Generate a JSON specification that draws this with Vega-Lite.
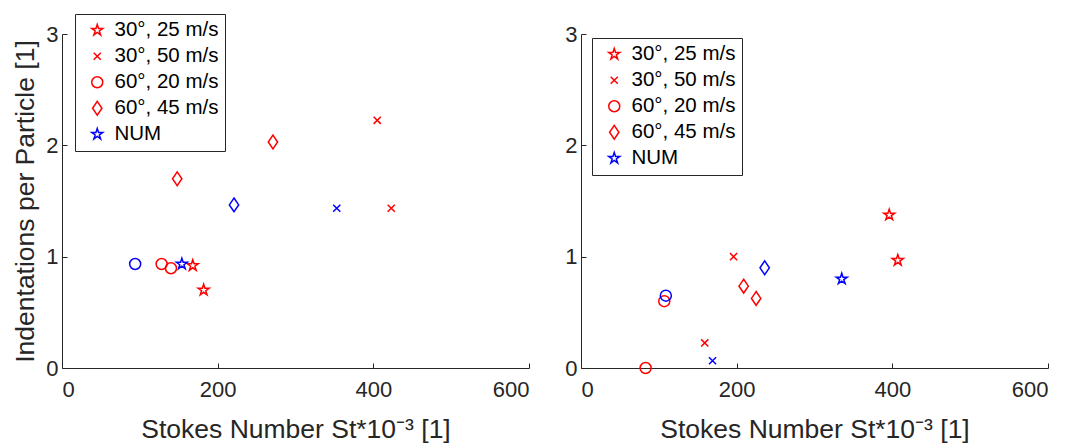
{
  "$schema": "https://vega.github.io/schema/vega-lite/v6.json",
  "autosize": {"type": "pad"},
  "padding": {"left": 12, "top": 13, "right": 5, "bottom": 0},
  "config": {
    "font": "Liberation Sans",
    "view": {"stroke": null},
    "concat": {"spacing": 52},
    "axis": {
      "grid": false,
      "domainColor": "#262626",
      "tickColor": "#262626",
      "labelColor": "#262626",
      "titleColor": "#262626",
      "labelFontSize": 22,
      "titleFontSize": 26.5,
      "titleFontWeight": "normal",
      "tickSize": -5,
      "domainWidth": 1,
      "tickWidth": 1
    },
    "legend": {
      "orient": "none",
      "title": null,
      "strokeColor": "#262626",
      "fillColor": "white",
      "padding": 6,
      "symbolOffset": 6,
      "labelFontSize": 20.5,
      "labelColor": "#000000",
      "labelOffset": 7,
      "symbolSize": 121,
      "symbolStrokeWidth": 1.5,
      "rowPadding": 5,
      "labelLimit": 300
    }
  },
  "bounds": "flush",
  "datasets": {
    "left": [
      {"src": "EXP", "cond": "30°, 25 m/s", "St": 168, "ind": 0.92},
      {"src": "EXP", "cond": "30°, 25 m/s", "St": 182, "ind": 0.70},
      {"src": "EXP", "cond": "30°, 50 m/s", "St": 405, "ind": 2.225},
      {"src": "EXP", "cond": "30°, 50 m/s", "St": 423, "ind": 1.435},
      {"src": "EXP", "cond": "60°, 20 m/s", "St": 128, "ind": 0.934},
      {"src": "EXP", "cond": "60°, 20 m/s", "St": 140, "ind": 0.896},
      {"src": "EXP", "cond": "60°, 45 m/s", "St": 148, "ind": 1.70},
      {"src": "EXP", "cond": "60°, 45 m/s", "St": 271, "ind": 2.03},
      {"src": "NUM", "cond": "30°, 25 m/s", "St": 154, "ind": 0.934},
      {"src": "NUM", "cond": "30°, 50 m/s", "St": 353, "ind": 1.435},
      {"src": "NUM", "cond": "60°, 20 m/s", "St": 94, "ind": 0.934},
      {"src": "NUM", "cond": "60°, 45 m/s", "St": 221, "ind": 1.465}
    ],
    "right": [
      {"src": "EXP", "cond": "30°, 25 m/s", "St": 396, "ind": 1.375},
      {"src": "EXP", "cond": "30°, 25 m/s", "St": 407, "ind": 0.967},
      {"src": "EXP", "cond": "30°, 50 m/s", "St": 159, "ind": 0.225},
      {"src": "EXP", "cond": "30°, 50 m/s", "St": 196, "ind": 1.0},
      {"src": "EXP", "cond": "60°, 20 m/s", "St": 83, "ind": 0.0},
      {"src": "EXP", "cond": "60°, 20 m/s", "St": 107, "ind": 0.60},
      {"src": "EXP", "cond": "60°, 45 m/s", "St": 209, "ind": 0.735},
      {"src": "EXP", "cond": "60°, 45 m/s", "St": 225, "ind": 0.625},
      {"src": "NUM", "cond": "30°, 25 m/s", "St": 335, "ind": 0.80},
      {"src": "NUM", "cond": "30°, 50 m/s", "St": 169, "ind": 0.065},
      {"src": "NUM", "cond": "60°, 20 m/s", "St": 109, "ind": 0.65},
      {"src": "NUM", "cond": "60°, 45 m/s", "St": 236, "ind": 0.90}
    ]
  },
  "resolve": {
    "scale": {"color": "independent", "shape": "independent", "x": "independent", "y": "independent"},
    "legend": {"color": "independent", "shape": "independent"}
  },
  "hconcat": [
    {
      "width": 467,
      "height": 334,
      "data": {"name": "left"},
      "mark": {"type": "point", "filled": false, "size": 121, "strokeWidth": 1.5, "opacity": 1},
      "encoding": {
        "x": {"field": "St", "type": "quantitative", "scale": {"domain": [0, 600], "nice": false},
          "axis": {"values": [0, 200, 400, 600], "title": "Stokes Number St*10⁻³ [1]", "labelPadding": 16, "titlePadding": 16}},
        "y": {"field": "ind", "type": "quantitative", "scale": {"domain": [0, 3], "nice": false},
          "axis": {"values": [0, 1, 2, 3], "title": "Indentations per Particle [1]", "labelPadding": 9, "titlePadding": 6}},
        "color": {
          "condition": {"test": "datum.src === 'NUM'", "value": "#0000FF"},
          "field": "cond", "type": "nominal",
          "scale": {"domain": ["30°, 25 m/s", "30°, 50 m/s", "60°, 20 m/s", "60°, 45 m/s", "NUM"],
                    "range": ["#FF0000", "#FF0000", "#FF0000", "#FF0000", "#0000FF"]},
          "legend": {"legendX": 13, "legendY": -20}
        },
        "shape": {
          "field": "cond", "type": "nominal",
          "scale": {"domain": ["30°, 25 m/s", "30°, 50 m/s", "60°, 20 m/s", "60°, 45 m/s", "NUM"],
                    "range": [
                      "M0,-1.05L0.236,-0.324L0.999,-0.324L0.381,0.124L0.617,0.849L0,0.401L-0.617,0.849L-0.381,0.124L-0.999,-0.324L-0.236,-0.324Z",
                      "M-0.65,-0.65L0.65,0.65M-0.65,0.65L0.65,-0.65",
                      "circle",
                      "M0,-1.25L0.85,0L0,1.25L-0.85,0Z",
                      "M0,-1.05L0.236,-0.324L0.999,-0.324L0.381,0.124L0.617,0.849L0,0.401L-0.617,0.849L-0.381,0.124L-0.999,-0.324L-0.236,-0.324Z"
                    ]},
          "legend": {"legendX": 13, "legendY": -20}
        }
      }
    },
    {
      "width": 467,
      "height": 334,
      "data": {"name": "right"},
      "mark": {"type": "point", "filled": false, "size": 121, "strokeWidth": 1.5, "opacity": 1},
      "encoding": {
        "x": {"field": "St", "type": "quantitative", "scale": {"domain": [0, 600], "nice": false},
          "axis": {"values": [0, 200, 400, 600], "title": "Stokes Number St*10⁻³ [1]", "labelPadding": 16, "titlePadding": 16}},
        "y": {"field": "ind", "type": "quantitative", "scale": {"domain": [0, 3], "nice": false},
          "axis": {"values": [0, 1, 2, 3], "title": null, "labelPadding": 9}},
        "color": {
          "condition": {"test": "datum.src === 'NUM'", "value": "#0000FF"},
          "field": "cond", "type": "nominal",
          "scale": {"domain": ["30°, 25 m/s", "30°, 50 m/s", "60°, 20 m/s", "60°, 45 m/s", "NUM"],
                    "range": ["#FF0000", "#FF0000", "#FF0000", "#FF0000", "#0000FF"]},
          "legend": {"legendX": 11, "legendY": 4}
        },
        "shape": {
          "field": "cond", "type": "nominal",
          "scale": {"domain": ["30°, 25 m/s", "30°, 50 m/s", "60°, 20 m/s", "60°, 45 m/s", "NUM"],
                    "range": [
                      "M0,-1.05L0.236,-0.324L0.999,-0.324L0.381,0.124L0.617,0.849L0,0.401L-0.617,0.849L-0.381,0.124L-0.999,-0.324L-0.236,-0.324Z",
                      "M-0.65,-0.65L0.65,0.65M-0.65,0.65L0.65,-0.65",
                      "circle",
                      "M0,-1.25L0.85,0L0,1.25L-0.85,0Z",
                      "M0,-1.05L0.236,-0.324L0.999,-0.324L0.381,0.124L0.617,0.849L0,0.401L-0.617,0.849L-0.381,0.124L-0.999,-0.324L-0.236,-0.324Z"
                    ]},
          "legend": {"legendX": 11, "legendY": 4}
        }
      }
    }
  ]
}
